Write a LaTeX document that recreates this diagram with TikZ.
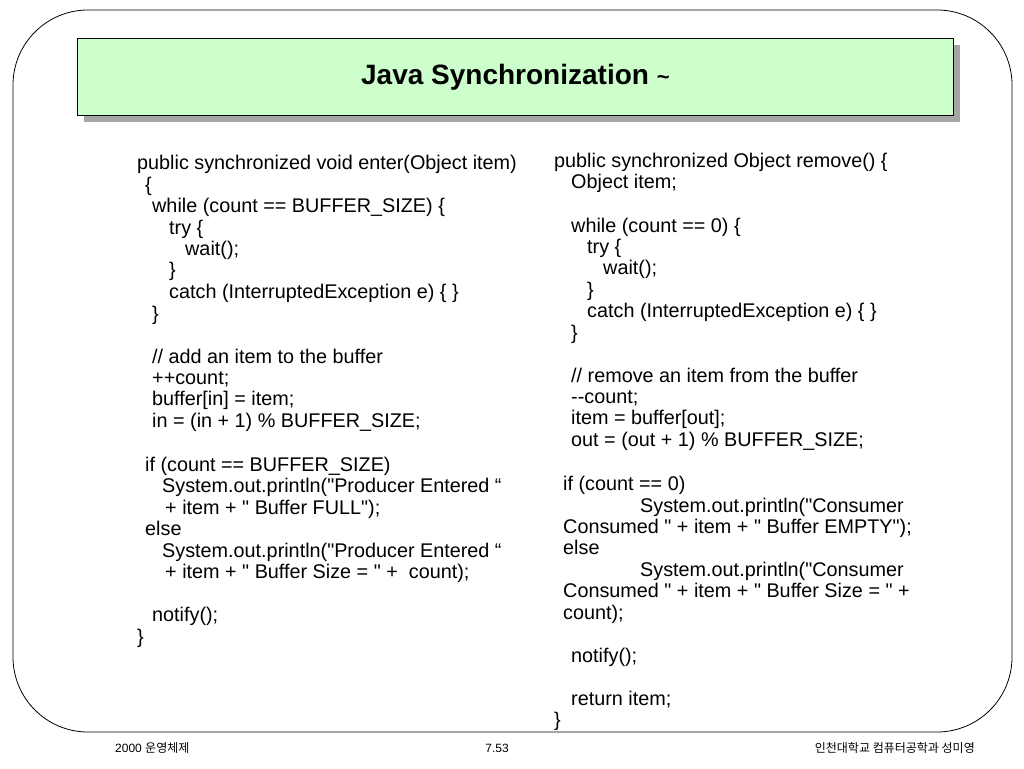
\documentclass[tikz,border=0pt]{standalone}
\usepackage{fontspec}
\setmainfont{Liberation Sans}[Ligatures=TeXOff]
\newfontfamily\kr{Noto Sans CJK KR}
\begin{document}
\begin{tikzpicture}[x=1pt,y=-1pt,
  cl/.style={anchor=base west,inner sep=0pt,font=\fontsize{19.8}{22}\selectfont},
  ft/.style={inner sep=0pt,font=\fontsize{12}{14}\selectfont}]
\useasboundingbox (0,0) rectangle (1024,768);
\draw[line width=0.8pt,rounded corners=75pt] (13,10) rectangle (1012,732);
\fill[gray!70] (84,45) rectangle (960,122);
\node[draw,line width=0.8pt,fill={rgb,255:red,204;green,255;blue,204},minimum width=876pt,minimum height=77pt,anchor=north west,inner sep=0pt] (title) at (77,38) {};
\node[font=\bfseries\fontsize{28}{32}\selectfont] at (title.center) {Java Synchronization {\fontsize{22}{24}\selectfont\textasciitilde}};
% left
\foreach \x/\y/\t [count=\i] in {
137/163/{public synchronized void enter(Object item)},
145/185/{\{},
152/206/{while (count == BUFFER\_SIZE) \{},
169/228/{try \{},
185/249/{wait();},
169/270/{\}},
169/292/{catch (InterruptedException e) \{ \}},
152/314/{\}},
152/357/{// add an item to the buffer},
152/378/{++count;},
152/399/{buffer[in] = item;},
152/421/{in = (in + 1) \% BUFFER\_SIZE;},
145/465/{if (count == BUFFER\_SIZE)},
162/486/{System.out.println("Producer Entered “},
165/508/{+ item + " Buffer FULL");},
145/529/{else},
162/551/{System.out.println("Producer Entered “},
165/572/{+ item + " Buffer Size = " +\ \ count);},
152/615/{notify();},
137/637/{\}}}
  \node[cl] (l\i) at (\x,\y+6) {\t};
% right
\foreach \x/\y/\t [count=\i] in {
554/161/{public synchronized Object remove() \{},
571/182/{Object item;},
571/226/{while (count == 0) \{},
587/247/{try \{},
603/268/{wait();},
587/290/{\}},
587/311/{catch (InterruptedException e) \{ \}},
571/333/{\}},
571/376/{// remove an item from the buffer},
571/397/{-{}-count;},
571/418/{item = buffer[out];},
571/440/{out = (out + 1) \% BUFFER\_SIZE;},
563/484/{if (count == 0)},
640/506/{System.out.println("Consumer},
563/527/{Consumed " + item + " Buffer EMPTY");},
563/548/{else},
640/570/{System.out.println("Consumer},
563/591/{Consumed " + item + " Buffer Size = " +},
563/613/{count);},
571/656/{notify();},
571/699/{return item;},
554/720/{\}}}
  \node[cl] (r\i) at (\x,\y+6) {\t};
\node[ft,anchor=west] (f1) at (115,748) {2000 {\kr 운영체제}};
\node[ft] (f2) at (497,748) {7.53};
\node[ft,anchor=east] (f3) at (975,748) {\kr 인천대학교 컴퓨터공학과 성미영};
\end{tikzpicture}
\end{document}
